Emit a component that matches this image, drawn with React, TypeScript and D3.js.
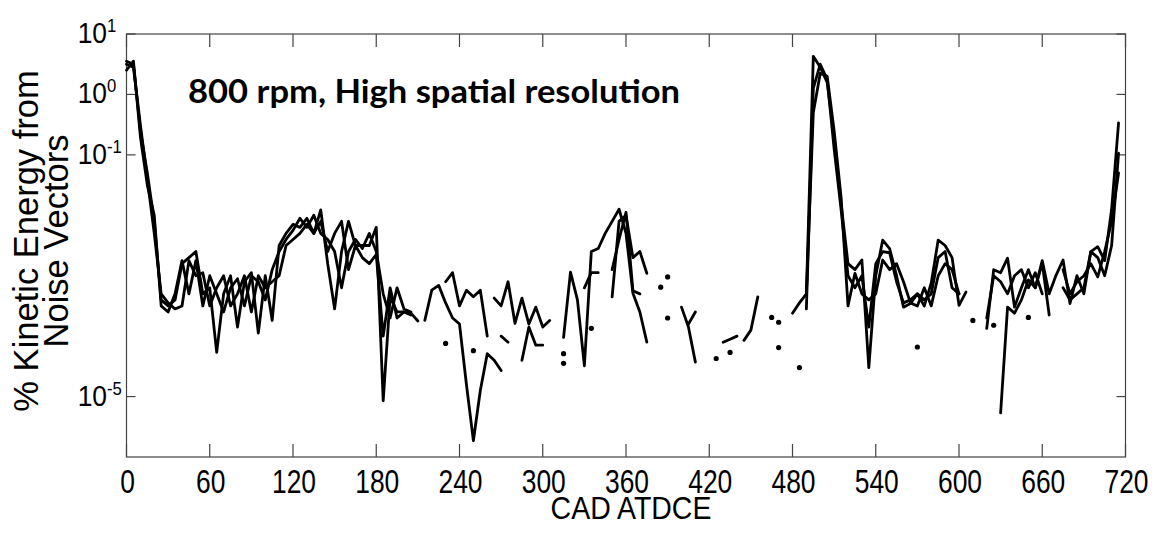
import React from "react";
import * as d3 from "d3";

// Crank-angle sample grid (CAD ATDCE), one sample every 5 degrees
const cadAngles: number[] = d3.range(0, 720, 5);

// log10 of % kinetic energy from noise vectors, three runs (null = no data)
const runA: (number | null)[] = [
  0.55, 0.5, -0.6, -1.3, -2.1, -3.4, -3.5, -3.4, -2.8, -2.7,
  -2.6, -3.3, -3.2, -4.27, -3.3, -3.0, -3.85, -3.1, -2.95, -3.95,
  -3.0, -3.74, -2.5, -2.3, -2.15, -2.2, -2.05, -2.3, -1.91, -2.8,
  -3.55, -2.6, -2.1, -2.5, -2.5, -2.5, -2.2, -5.07, -3.35, -3.6,
  -3.6, -3.62, -3.75, null, null, null, null, null, null, null,
  null, null, null, -3.37, -3.5, -3.1, -3.79, -3.37, -3.8, -3.52,
  -3.85, -3.74, null, -4.02, -2.94, -3.4, -4.49, -2.6, -2.55, -2.3,
  -2.1, -1.9, -2.3, -3.29, -3.6, -4.1, null, null, null, null,
  -3.52, -3.85, -4.43, null, null, null, null, null, null, null,
  null, null, null, null, null, null, -3.62, -3.45, -3.3, 0.63,
  0.45, 0.2, -0.7, -1.8, -2.8, -2.9, -2.74, -4.52, -3.0, -2.41,
  -2.55, -3.0, -3.52, -3.46, -3.3, -3.5, -3.12, -2.41, -2.5, -2.7,
  -3.49, -3.27, null, null, -3.87, -2.9, -2.95, -2.71, -3.52, -3.2,
  -2.9, -3.2, -2.75, -3.3, -2.99, -2.74, -3.46, -3.0, -3.3, -2.6,
  -2.52, -2.75, -1.9, -0.47,
];

const runB: (number | null)[] = [
  0.4, 0.55, -0.7, -1.5, -2.0, -3.5, -3.6, -3.3, -2.75, -3.3,
  -2.75, -3.5, -3.0, -3.3, -3.6, -3.2, -3.05, -3.5, -3.0, -3.1,
  -3.4, -2.9, -2.6, -2.4, -2.25, -2.05, -2.2, -2.0, -2.3, -2.4,
  -2.6, -3.2, -2.6, -2.4, -2.55, -2.3, -2.6, -3.3, -3.7, -3.2,
  -3.55, -3.6, null, -3.74, -3.24, -3.16, -3.45, -3.7, -3.8, -4.8,
  -5.73, -4.9, -4.29, -4.4, -4.57, null, null, null, null, null,
  null, null, null, null, null, null, -3.2, -2.95, -2.95, null,
  -3.35, -2.1, -2.0, -2.7, -2.6, -2.96, null, null, null, null,
  null, -3.8, -3.6, null, null, null, null, null, null, -4.07,
  -3.9, -3.35, null, null, null, null, null, null, -3.55, 0.1,
  0.5, 0.25, -0.9, -1.9, -3.0, -3.2, -3.0, -3.85, -2.8, -2.6,
  -2.62, -3.1, -3.45, -3.4, -3.3, -3.4, -3.3, -2.7, -2.6, -3.2,
  -3.3, null, null, null, null, null, -5.27, -3.52, -3.62, -3.4,
  -3.07, -3.2, -2.79, -3.65, null, -2.9, -3.3, -3.1, -3.0, -2.8,
  -3.02, -2.6, -2.1, -1.3,
];

const runC: (number | null)[] = [
  0.5, 0.45, -0.5, -1.4, -2.3, -3.3, -3.45, -3.55, -3.5, -2.75,
  -3.0, -2.95, -3.5, -3.2, -3.0, -3.5, -3.3, -3.0, -3.6, -3.0,
  -3.2, -3.1, -3.0, -2.5, -2.4, -2.3, -2.15, -2.3, -2.1, -2.6,
  -2.3, -2.1, -2.9, -2.5, -2.7, -2.8, -2.65, -4.0, -3.2, -3.7,
  -3.6, -3.65, null, null, null, null, -3.1, -2.95, -3.5, -3.24,
  -3.35, -3.24, -4.0, null, -4.0, -4.1, null, -4.4, -3.85, -4.15,
  -4.15, null, null, null, null, null, null, null, null, null,
  -2.9, -2.4, -1.95, -3.25, -3.3, null, null, null, null, null,
  null, null, null, null, null, null, -4.1, -4.05, -4.0, null,
  null, null, null, null, null, null, null, null, -3.3, -0.3,
  0.35, 0.3, -0.6, -1.7, -3.5, -2.96, -3.3, -3.4, -3.3, -2.74,
  -2.9, -2.8, -3.1, -3.45, -3.5, -3.2, -3.5, -3.0, -2.8, -2.9,
  -3.3, null, null, null, -3.7, -3.0, -3.1, -3.3, -3.0, -2.9,
  -3.2, -2.95, -3.3, null, null, -3.2, -3.4, -3.3, -3.2, -2.6,
  -2.7, -3.0, -2.5, -0.97,
];

// isolated samples drawn as dots: [CAD, log10 value]
const isolatedPoints: [number, number][] = [
  [230, -4.12], [250, -4.24], [315, -4.29], [315, -4.45], [335, -3.87],
  [385, -3.19], [390, -3.02], [390, -3.7], [425, -4.37], [435, -4.27],
  [465, -3.69], [470, -3.77], [470, -4.19], [485, -4.52], [570, -4.18],
  [610, -3.74], [625, -3.82], [650, -3.69],
];

const xTicks = [0, 60, 120, 180, 240, 300, 360, 420, 480, 540, 600, 660, 720];
const yTickExponents = [1, 0, -1, -5];

const titleText = "800 rpm, High spatial resolution";
const xLabel = "CAD ATDCE";
const yLabelLines = ["% Kinetic Energy from", "Noise Vectors"];

const W = 1162;
const H = 535;
const PL = 126.5, PR = 1125.5, PT = 34, PB = 457;

export default function App() {
  const x = d3.scaleLinear().domain([0, 720]).range([PL, PR]);
  const y = d3.scaleLog().domain([1e-6, 10]).range([PB, PT]);
  const series = [runA, runB, runC];

  type P = [number, number | null];
  const line = d3
    .line<P>()
    .defined((d) => d[1] != null)
    .x((d) => x(d[0]))
    .y((d) => y(Math.pow(10, d[1] as number)));

  const font = "'Liberation Sans', Arial, Helvetica, sans-serif";

  const singles: [number, number][] = [];
  series.forEach((s) => {
    s.forEach((v, i) => {
      if (v == null) return;
      const prev = i > 0 ? s[i - 1] : null;
      const next = i < s.length - 1 ? s[i + 1] : null;
      if (prev == null && next == null) singles.push([cadAngles[i], v]);
    });
  });

  const xt = 13;
  const yt = 9;

  return (
    <div style={{ position: "absolute", left: 0, top: 0 }}>
      <svg width={W} height={H} style={{ display: "block", background: "#fff" }}>
        <rect x={0} y={0} width={W} height={H} fill="#fff" />
        {/* frame */}
        <rect x={PL} y={PT} width={PR - PL} height={PB - PT} fill="none" stroke="#444" strokeWidth={1.2} />
        {/* x ticks */}
        {xTicks.map((t) => (
          <g key={"xt" + t}>
            <line x1={x(t)} x2={x(t)} y1={PB} y2={PB - xt} stroke="#444" strokeWidth={1.2} />
            <line x1={x(t)} x2={x(t)} y1={PT} y2={PT + xt} stroke="#444" strokeWidth={1.2} />
            <text
              transform={`translate(${x(t) + 1},${493}) scale(0.8,1)`}
              textAnchor="middle"
              fontFamily={font}
              fontSize={33}
              fill="#000"
            >
              {t}
            </text>
          </g>
        ))}
        {/* y ticks */}
        {yTickExponents.map((e) => {
          const yy = y(Math.pow(10, e));
          return (
            <g key={"yt" + e}>
              <line x1={PL} x2={PL + yt} y1={yy} y2={yy} stroke="#444" strokeWidth={1.2} />
              <line x1={PR} x2={PR - yt} y1={yy} y2={yy} stroke="#444" strokeWidth={1.2} />
              <text
                transform={`translate(${107},${yy + 9}) scale(0.88,1)`}
                textAnchor="end"
                fontFamily={font}
                fontSize={30}
                fill="#000"
              >
                10
              </text>
              <text
                transform={`translate(${107},${yy - 2}) scale(0.88,1)`}
                textAnchor="start"
                fontFamily={font}
                fontSize={19}
                fill="#000"
              >
                {e < 0 ? "-" + Math.abs(e) : String(e)}
              </text>
            </g>
          );
        })}
        {/* data lines */}
        {series.map((s, k) => (
          <path
            key={"s" + k}
            d={line(cadAngles.map((c, i) => [c, s[i]] as P)) || ""}
            fill="none"
            stroke="#000"
            strokeWidth={2.8}
            strokeLinejoin="round"
            strokeLinecap="round"
          />
        ))}
        {singles.concat(isolatedPoints).map((p, i) => (
          <circle key={"d" + i} cx={x(p[0])} cy={y(Math.pow(10, p[1]))} r={2.6} fill="#000" />
        ))}
        {/* title */}
        <text
          x={188}
          y={103}
          fontFamily="Lato, 'Open Sans', sans-serif"
          fontWeight={700}
          fontSize={32}
          textLength={492}
          lengthAdjust="spacingAndGlyphs"
          fill="#000"
        >
          {titleText}
        </text>
        {/* x label */}
        <text
          transform={`translate(${631},${519}) scale(0.89,1)`}
          textAnchor="middle"
          fontFamily={font}
          fontSize={32}
          fill="#000"
        >
          {xLabel}
        </text>
        {/* y label */}
        {yLabelLines.map((l, i) => (
          <text
            key={"yl" + i}
            transform={`translate(${38 + i * 30},${241}) rotate(-90)`}
            textAnchor="middle"
            fontFamily={font}
            fontSize={34.5}
            fill="#000"
          >
            {l}
          </text>
        ))}
      </svg>
    </div>
  );
}
